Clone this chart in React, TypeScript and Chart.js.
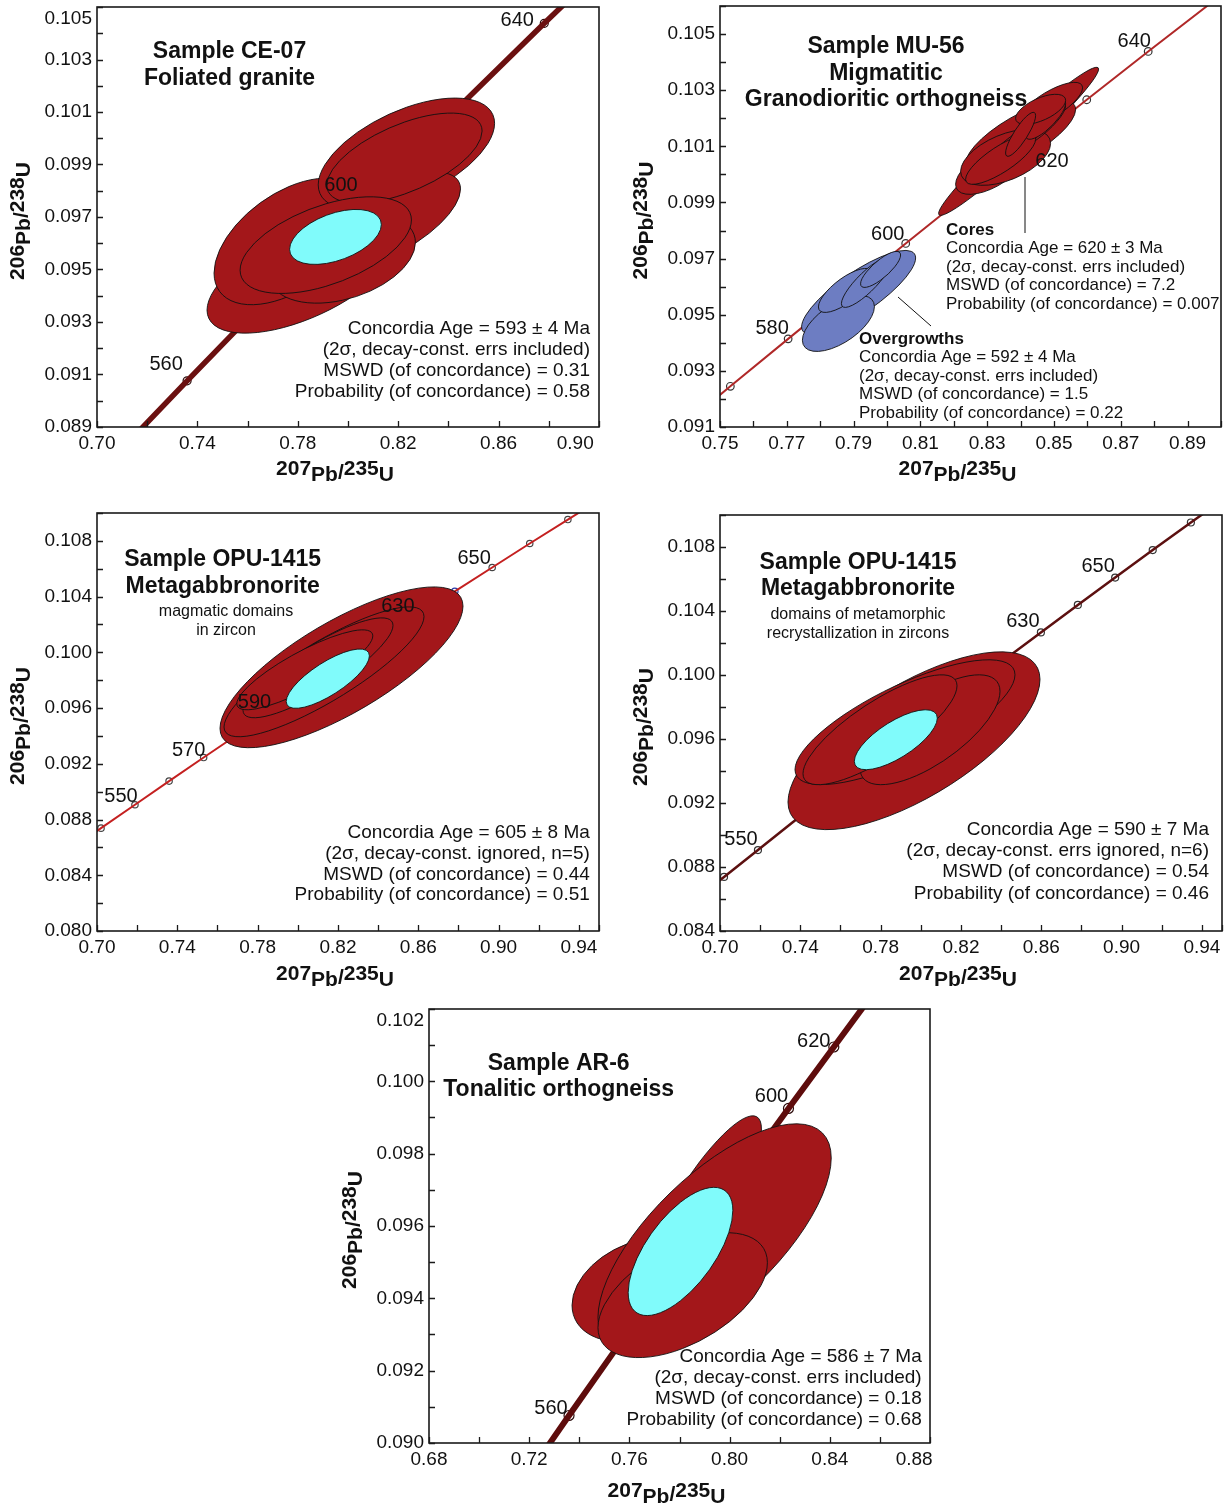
import React, { useEffect, useRef } from 'react';
import { Chart, registerables } from 'chart.js';

Chart.register(...registerables);

const FONT = '"Liberation Sans", Arial, Helvetica, sans-serif';
const NBSP = '\u00a0';

type Ell = number[]; // [207Pb/235U centre, 206Pb/238U centre, half-width x, half-height y, correlation]

// ---------- Concordia reference points ----------
const CONCORDIA_AGES = [530, 540, 550, 560, 570, 580, 590, 600, 610, 620, 630, 640, 650, 660, 670, 680];
const CONCORDIA_X = [0.6853, 0.702, 0.7189, 0.7359, 0.7531, 0.7704, 0.7879, 0.8056, 0.8235, 0.8416, 0.8598, 0.8782, 0.8968, 0.9155, 0.9345, 0.9537];
const CONCORDIA_Y = [0.08569, 0.08738, 0.08906, 0.09076, 0.09245, 0.09414, 0.09584, 0.09754, 0.09925, 0.10095, 0.10266, 0.10438, 0.10609, 0.10781, 0.10953, 0.11125];

// ---------- Sample CE-07 ----------
const CE07_MARKER_AGES = [560, 640];
const CE07_LABEL_AGES = [560, 600, 640];
const CE07_LABEL_TEXTS = ['560', '600', '640'];
const CE07_ELLIPSES: Ell[] = [
  [0.78176, 0.094766, 0.03792, 0.002191, 0.6],
  [0.77645, 0.09607, 0.02982, 0.002412, 0.5],
  [0.82327, 0.099397, 0.03513, 0.002134, 0.55],
  [0.81689, 0.096881, 0.02794, 0.001829, 0.65],
  [0.8089, 0.095547, 0.01597, 0.001143, 0.5],
  [0.79772, 0.095433, 0.02914, 0.001715, 0.35],
  [0.82248, 0.099244, 0.03094, 0.001715, 0.6],
  [0.79114, 0.095929, 0.03413, 0.001841, 0.52],
];
const CE07_MEAN: Ell = [0.79501, 0.096241, 0.01828, 0.001048, 0.45];
const CE07_TITLE = ['Sample CE-07', 'Foliated granite'];
const CE07_STATS = ['Concordia Age = 593 ± 4 Ma', '(2σ, decay-const. errs included)', 'MSWD (of concordance) = 0.31', 'Probability (of concordance) = 0.58'];

// ---------- Sample MU-56 ----------
const MU56_MARKER_AGES = [570, 580, 600, 630, 640];
const MU56_LABEL_AGES = [580, 600, 620, 640];
const MU56_LABEL_TEXTS = ['580', '600', '620', '640'];
const MU56_CORES: Ell[] = [
  [0.8394, 0.101178, 0.02395, 0.002638, 0.975],
  [0.84, 0.10135, 0.01647, 0.001283, 0.75],
  [0.83102, 0.10018, 0.01048, 0.000891, 0.6],
  [0.84898, 0.102497, 0.00958, 0.000784, 0.75],
  [0.83551, 0.100608, 0.01347, 0.000998, 0.5],
  [0.84449, 0.101677, 0.00898, 0.000891, 0.85],
  [0.83701, 0.100893, 0.00838, 0.000856, 0.85],
  [0.8415, 0.10125, 0.00659, 0.000998, 0.9],
  [0.83401, 0.100537, 0.01048, 0.000891, 0.8],
  [0.84748, 0.101963, 0.00599, 0.000713, 0.8],
  [0.84599, 0.102319, 0.00749, 0.000535, 0.6],
  [0.84, 0.101428, 0.00449, 0.000784, 0.85],
];
const MU56_OVERGROWTHS: Ell[] = [
  [0.7915, 0.095795, 0.01707, 0.001497, 0.82],
  [0.78545, 0.09469, 0.01078, 0.000998, 0.6],
  [0.78755, 0.095866, 0.00808, 0.000784, 0.75],
  [0.79384, 0.096152, 0.00749, 0.000891, 0.85],
  [0.79808, 0.096615, 0.00599, 0.000642, 0.8],
];
const MU56_TITLE = ['Sample MU-56', 'Migmatitic', 'Granodioritic orthogneiss'];
const MU56_CORES_STATS = ['Cores', 'Concordia Age = 620 ± 3 Ma', '(2σ, decay-const. errs included)', 'MSWD (of concordance) = 7.2', 'Probability (of concordance) = 0.007'];
const MU56_OVER_STATS = ['Overgrowths', 'Concordia Age = 592 ± 4 Ma', '(2σ, decay-const. errs included)', 'MSWD (of concordance) = 1.5', 'Probability (of concordance) = 0.22'];

// ---------- Sample OPU-1415, magmatic domains ----------
const OPUM_MARKER_AGES = [540, 550, 560, 570, 640, 650, 660, 670];
const OPUM_LABEL_AGES = [550, 570, 590, 630, 650];
const OPUM_LABEL_TEXTS = ['550', '570', '590', '630', '650'];
const OPUM_ELLIPSES: Ell[] = [
  [0.82176, 0.098925, 0.06051, 0.005771, 0.76],
  [0.81305, 0.098602, 0.0498, 0.00466, 0.85],
  [0.81006, 0.098889, 0.03735, 0.003584, 0.85],
  [0.80349, 0.098746, 0.03386, 0.002867, 0.85],
];
const OPUM_MEAN: Ell = [0.81494, 0.09811, 0.02072, 0.002129, 0.77];
const OPUM_TITLE = ['Sample OPU-1415', 'Metagabbronorite'];
const OPUM_SUBTITLE = ['magmatic domains', 'in zircon'];
const OPUM_STATS = ['Concordia Age = 605 ± 8 Ma', '(2σ, decay-const. ignored, n=5)', 'MSWD (of concordance) = 0.44', 'Probability (of concordance) = 0.51'];

// ---------- Sample OPU-1415, metamorphic recrystallization ----------
const OPUR_MARKER_AGES = [540, 550, 630, 640, 650, 660, 670];
const OPUR_LABEL_AGES = [550, 630, 650];
const OPUR_LABEL_TEXTS = ['550', '630', '650'];
const OPUR_ELLIPSES: Ell[] = [
  [0.79661, 0.095891, 0.06275, 0.005556, 0.69],
  [0.79213, 0.09705, 0.05478, 0.003901, 0.76],
  [0.80458, 0.096578, 0.03486, 0.003433, 0.7],
  [0.77968, 0.096578, 0.03835, 0.003433, 0.8],
];
const OPUR_MEAN: Ell = [0.78755, 0.095954, 0.02067, 0.001873, 0.72];
const OPUR_TITLE = ['Sample OPU-1415', 'Metagabbronorite'];
const OPUR_SUBTITLE = ['domains of metamorphic', 'recrystallization in zircons'];
const OPUR_STATS = ['Concordia Age = 590 ± 7 Ma', '(2σ, decay-const. errs ignored, n=6)', 'MSWD (of concordance) = 0.54', 'Probability (of concordance) = 0.46'];

// ---------- Sample AR-6 ----------
const AR6_MARKER_AGES = [560, 610, 620];
const AR6_LABEL_AGES = [560, 610, 620];
const AR6_LABEL_TEXTS = ['560', '600', '620'];
const AR6_ELLIPSES: Ell[] = [
  [0.76416, 0.09424, 0.02706, 0.001436, 0.3],
  [0.78804, 0.09645, 0.02467, 0.002597, 0.86],
  [0.79401, 0.095677, 0.04656, 0.003149, 0.7],
  [0.78127, 0.094088, 0.03382, 0.001727, 0.52],
];
const AR6_MEAN: Ell = [0.7804, 0.095296, 0.02089, 0.001773, 0.64];
const AR6_TITLE = ['Sample AR-6', 'Tonalitic orthogneiss'];
const AR6_STATS = ['Concordia Age = 586 ± 7 Ma', '(2σ, decay-const. errs included)', 'MSWD (of concordance) = 0.18', 'Probability (of concordance) = 0.68'];

// ---------- styles ----------
const RED = '#a3171a';
const CYAN = '#80fbfb';
const BLUE = '#6d7dc2';

const PANELS: any[] = [
  {
    key: 'ce07', plot: [97, 7, 599, 427], padR: 25,
    x: { min: 0.7, max: 0.9, step: 0.02, lBase: 0.7, lStep: 0.04, dec: 2 }, xLastPad: 9,
    y: { min: 0.089, max: 0.105, step: 0.001, lBase: 0.089, lStep: 0.002, dec: 3 }, yTopShift: true,
    line: { color: '#6b1010', width: 5.5 },
    marker: { r: 4, border: '#2a0a0a' },
    markerAges: CE07_MARKER_AGES, labelAges: CE07_LABEL_AGES, labelTexts: CE07_LABEL_TEXTS,
    labelOffsets: [[-21, -16], [-21, -17], [-27, -3]],
    groups: [{ items: CE07_ELLIPSES, fill: RED }, { items: [CE07_MEAN], fill: CYAN }],
    texts: [
      { lines: CE07_TITLE, x: 229.5, y: 51.5, dy: 27, align: 'center', size: 23, bold: true },
      { lines: CE07_STATS, x: 590, y: 328.3, dy: 21.1, align: 'right', size: 19 },
    ],
    leaders: [], titleDy: 45,
  },
  {
    key: 'mu56', plot: [720, 6, 1221, 427], padR: 5,
    x: { min: 0.75, max: 0.9, step: 0.01, lBase: 0.75, lStep: 0.02, dec: 2 },
    y: { min: 0.091, max: 0.106, step: 0.001, lBase: 0.091, lStep: 0.002, dec: 3 },
    line: { color: '#b02828', width: 2 },
    marker: { r: 3.8, border: '#333' },
    markerAges: MU56_MARKER_AGES, labelAges: MU56_LABEL_AGES, labelTexts: MU56_LABEL_TEXTS,
    labelOffsets: [[-16, -10], [-18, -9], [26, 14], [-14, -10]],
    groups: [{ items: MU56_CORES, fill: RED }, { items: MU56_OVERGROWTHS, fill: BLUE }],
    texts: [
      { lines: MU56_TITLE, x: 886, y: 47, dy: 26.3, align: 'center', size: 23, bold: true },
      { lines: MU56_CORES_STATS, x: 946, y: 230, dy: 18.6, align: 'left', size: 17, boldFirst: true },
      { lines: MU56_OVER_STATS, x: 859, y: 339.3, dy: 18.5, align: 'left', size: 17, boldFirst: true },
    ],
    leaders: [[1025, 177, 1025, 233], [898, 297, 931, 326]], titleDy: 45,
  },
  {
    key: 'opum', plot: [97, 513, 599, 931], padR: 25,
    x: { min: 0.7, max: 0.95, step: 0.02, lBase: 0.7, lStep: 0.04, dec: 2 },
    y: { min: 0.08, max: 0.11, step: 0.002, lBase: 0.08, lStep: 0.004, dec: 3 },
    line: { color: '#c42020', width: 2 },
    marker: { r: 3.2, border: '#444', highlight: { age: 640, color: '#2a3aa8' } },
    markerAges: OPUM_MARKER_AGES, labelAges: OPUM_LABEL_AGES, labelTexts: OPUM_LABEL_TEXTS,
    labelOffsets: [[-14, -8], [-15, -7], [-19, -8], [-20, -9], [-18, -8.5]],
    groups: [{ items: OPUM_ELLIPSES, fill: RED }, { items: [OPUM_MEAN], fill: CYAN }],
    texts: [
      { lines: OPUM_TITLE, x: 222.7, y: 560, dy: 26.7, align: 'center', size: 23, bold: true },
      { lines: OPUM_SUBTITLE, x: 226, y: 611.5, dy: 18.8, align: 'center', size: 16 },
      { lines: OPUM_STATS, x: 589.8, y: 832.7, dy: 20.8, align: 'right', size: 19 },
    ],
    leaders: [], titleDy: 46,
  },
  {
    key: 'opur', plot: [720, 515, 1222, 931], padR: 4,
    x: { min: 0.7, max: 0.95, step: 0.02, lBase: 0.7, lStep: 0.04, dec: 2 },
    y: { min: 0.084, max: 0.11, step: 0.002, lBase: 0.084, lStep: 0.004, dec: 3 },
    line: { color: '#5c1010', width: 2.5 },
    marker: { r: 3.5, border: '#333' },
    markerAges: OPUR_MARKER_AGES, labelAges: OPUR_LABEL_AGES, labelTexts: OPUR_LABEL_TEXTS,
    labelOffsets: [[-17, -11], [-18, -11], [-17, -11]],
    groups: [{ items: OPUR_ELLIPSES, fill: RED }, { items: [OPUR_MEAN], fill: CYAN }],
    texts: [
      { lines: OPUR_TITLE, x: 858, y: 562.3, dy: 26.7, align: 'center', size: 23, bold: true },
      { lines: OPUR_SUBTITLE, x: 858, y: 615, dy: 18.3, align: 'center', size: 16 },
      { lines: OPUR_STATS, x: 1209, y: 830, dy: 21.1, align: 'right', size: 19 },
    ],
    leaders: [], titleDy: 46,
  },
  {
    key: 'ar6', plot: [429, 1009, 930, 1443], padR: 25,
    x: { min: 0.68, max: 0.88, step: 0.02, lBase: 0.68, lStep: 0.04, dec: 2 }, xLastPad: 6,
    y: { min: 0.09, max: 0.102, step: 0.001, lBase: 0.09, lStep: 0.002, dec: 3 }, yTopShift: true,
    line: { color: '#5e0c0c', width: 6 },
    marker: { r: 5, border: '#2a0a0a' },
    markerAges: AR6_MARKER_AGES, labelAges: AR6_LABEL_AGES, labelTexts: AR6_LABEL_TEXTS,
    labelOffsets: [[-18, -7], [-17, -12], [-20, -5]],
    groups: [{ items: AR6_ELLIPSES, fill: RED }, { items: [AR6_MEAN], fill: CYAN }],
    texts: [
      { lines: AR6_TITLE, x: 558.7, y: 1063.3, dy: 26.7, align: 'center', size: 23, bold: true },
      { lines: AR6_STATS, x: 921.7, y: 1356.7, dy: 21.1, align: 'right', size: 19 },
    ],
    leaders: [], titleDy: 51,
  },
];

function concordiaPoint(age: number) {
  const i = CONCORDIA_AGES.indexOf(age);
  return { x: CONCORDIA_X[i], y: CONCORDIA_Y[i] };
}

function drawEllipse(ctx: CanvasRenderingContext2D, xs: any, ys: any, e: Ell, fill: string) {
  const [cx, cy, sx, sy, rho] = e;
  const X = xs.getPixelForValue(cx);
  const Y = ys.getPixelForValue(cy);
  const kx = xs.getPixelForValue(cx + sx) - X;
  const ky = Y - ys.getPixelForValue(cy + sy);
  ctx.save();
  ctx.beginPath();
  ctx.transform(kx, -ky * rho, 0, -ky * Math.sqrt(1 - rho * rho), X, Y);
  ctx.arc(0, 0, 1, 0, Math.PI * 2);
  ctx.restore();
  ctx.save();
  ctx.fillStyle = fill;
  ctx.fill();
  ctx.strokeStyle = '#111';
  ctx.lineWidth = 0.9;
  ctx.stroke();
  ctx.restore();
}

function drawIso(ctx: CanvasRenderingContext2D, cx: number, cy: number, rotate: boolean, n1: string, n2: string) {
  const parts: [string, number][] = [[n1, 3], ['Pb', 9], ['/', 7], [n2, 3], ['U', 9]];
  ctx.save();
  ctx.translate(cx, cy);
  if (rotate) ctx.rotate(-Math.PI / 2);
  ctx.font = `bold 21px ${FONT}`;
  ctx.fillStyle = '#111';
  ctx.textAlign = 'left';
  ctx.textBaseline = 'alphabetic';
  const widths = parts.map(([t]) => ctx.measureText(t).width);
  let x = -widths.reduce((a, b) => a + b, 0) / 2;
  parts.forEach(([t, base], i) => {
    ctx.fillText(t, x, base);
    x += widths[i];
  });
  ctx.restore();
}

function makeDecor(def: any) {
  return {
    id: 'decor_' + def.key,
    afterDatasetDraw(chart: any, args: any) {
      if (args.index !== 0) return;
      const ctx = chart.ctx;
      const ca = chart.chartArea;
      ctx.save();
      ctx.beginPath();
      ctx.rect(ca.left, ca.top, ca.right - ca.left, ca.bottom - ca.top);
      ctx.clip();
      for (const g of def.groups) for (const e of g.items) drawEllipse(ctx, chart.scales.x, chart.scales.y, e, g.fill);
      ctx.restore();
    },
    afterDatasetsDraw(chart: any) {
      const ctx = chart.ctx;
      const ca = chart.chartArea;
      const xs = chart.scales.x;
      const ys = chart.scales.y;
      const [L, T] = def.plot;
      const px = (v: number) => ca.left + (v - L);
      const py = (v: number) => ca.top + (v - T);
      ctx.save();
      ctx.fillStyle = '#111';
      ctx.font = `20px ${FONT}`;
      ctx.textAlign = 'center';
      ctx.textBaseline = 'middle';
      def.labelAges.forEach((age: number, i: number) => {
        const p = concordiaPoint(age);
        const [dx, dy] = def.labelOffsets[i];
        ctx.fillText(def.labelTexts[i], xs.getPixelForValue(p.x) + dx, ys.getPixelForValue(p.y) + dy);
      });
      ctx.strokeStyle = '#111';
      ctx.lineWidth = 1;
      for (const [x1, y1, x2, y2] of def.leaders) {
        ctx.beginPath();
        ctx.moveTo(px(x1), py(y1));
        ctx.lineTo(px(x2), py(y2));
        ctx.stroke();
      }
      for (const t of def.texts) {
        ctx.textAlign = t.align;
        t.lines.forEach((line: string, i: number) => {
          const bold = t.bold || (t.boldFirst && i === 0);
          ctx.font = `${bold ? 'bold ' : ''}${t.size}px ${FONT}`;
          ctx.fillText(line, px(t.x), py(t.y) + i * t.dy);
        });
      }
      ctx.strokeStyle = '#1a1a1a';
      ctx.lineWidth = 1.6;
      ctx.strokeRect(ca.left, ca.top, ca.right - ca.left, ca.bottom - ca.top);
      ctx.lineWidth = 1.3;
      ctx.beginPath();
      for (const t of xs.ticks) {
        const x = Math.round(xs.getPixelForValue(t.value)) + 0.5;
        ctx.moveTo(x, ca.bottom);
        ctx.lineTo(x, ca.bottom - 6);
      }
      for (const t of ys.ticks) {
        const y = Math.round(ys.getPixelForValue(t.value)) + 0.5;
        ctx.moveTo(ca.left, y);
        ctx.lineTo(ca.left + 6, y);
      }
      ctx.stroke();
      ctx.restore();
    },
    afterDraw(chart: any) {
      const ctx = chart.ctx;
      const ca = chart.chartArea;
      drawIso(ctx, (ca.left + ca.right) / 2 - 13, ca.bottom + def.titleDy, false, '207', '235');
      drawIso(ctx, ca.left - 76, (ca.top + ca.bottom) / 2 + 4, true, '206', '238');
    },
  };
}

function labelFor(v: number, a: any, isLast: boolean, pad: number, multiTop: boolean) {
  const k = (v - a.lBase) / a.lStep;
  if (Math.abs(k - Math.round(k)) > 1e-6) return '';
  const s = v.toFixed(a.dec);
  if (isLast && pad) return s + NBSP.repeat(pad);
  if (isLast && multiTop) return ['', s];
  return s;
}

function axisOptions(a: any, horizontal: boolean, def: any) {
  return {
    type: 'linear',
    position: horizontal ? 'bottom' : 'left',
    min: a.min,
    max: a.max,
    bounds: 'data',
    grid: { display: false, drawTicks: false },
    border: { display: false },
    ticks: {
      stepSize: a.step,
      precision: a.dec,
      includeBounds: false,
      autoSkip: false,
      maxTicksLimit: 1000,
      maxRotation: 0,
      minRotation: 0,
      padding: 5,
      color: '#111',
      font: { family: FONT, size: 19 },
      callback: (value: any) => {
        const v = Number(value);
        const isLast = Math.abs(v - a.max) < 1e-9;
        return labelFor(v, a, isLast, horizontal ? def.xLastPad || 0 : 0, !horizontal && !!def.yTopShift);
      },
    },
    afterFit: (s: any) => {
      if (horizontal) s.height = 75;
      else s.width = 100;
      s.paddingLeft = 0;
      s.paddingRight = 0;
      s.paddingTop = 0;
      s.paddingBottom = 0;
    },
  };
}

function buildConfig(def: any) {
  const linePts = CONCORDIA_AGES.map((_, i) => ({ x: CONCORDIA_X[i], y: CONCORDIA_Y[i] }));
  const markerPts = def.markerAges.map(concordiaPoint);
  const borders = def.markerAges.map((age: number) =>
    def.marker.highlight && def.marker.highlight.age === age ? def.marker.highlight.color : def.marker.border
  );
  return {
    type: 'scatter',
    data: {
      datasets: [
        {
          data: linePts,
          showLine: true,
          borderColor: def.line.color,
          borderWidth: def.line.width,
          pointRadius: 0,
          pointHoverRadius: 0,
          tension: 0,
          fill: false,
          clip: 0,
        },
        {
          data: markerPts,
          showLine: false,
          pointRadius: def.marker.r,
          pointHoverRadius: def.marker.r,
          pointBackgroundColor: '#ffffff',
          pointBorderColor: borders,
          pointBorderWidth: 1.2,
        },
      ],
    },
    options: {
      responsive: false,
      animation: false,
      devicePixelRatio: 1,
      events: [],
      layout: { padding: { left: 0, top: 15, right: def.padR, bottom: 0 }, autoPadding: false },
      plugins: { legend: { display: false }, tooltip: { enabled: false } },
      scales: {
        x: axisOptions(def.x, true, def),
        y: axisOptions(def.y, false, def),
      },
    },
    plugins: [makeDecor(def)],
  };
}

function Panel({ def }: { def: any }) {
  const ref = useRef<HTMLCanvasElement | null>(null);
  const [L, T, R, B] = def.plot;
  const left = L - 100;
  const top = T - 15;
  const width = R - L + 100 + def.padR;
  const height = B - T + 15 + 75;
  useEffect(() => {
    if (!ref.current) return;
    const chart = new Chart(ref.current, buildConfig(def) as any);
    return () => chart.destroy();
  }, [def]);
  return (
    <canvas
      ref={ref}
      width={width}
      height={height}
      style={{ position: 'absolute', left, top, width, height }}
    />
  );
}

export default function App() {
  return (
    <div style={{ position: 'absolute', left: 0, top: 0, width: 1226, height: 1508, overflow: 'hidden', background: '#ffffff' }}>
      {PANELS.map((p) => (
        <Panel key={p.key} def={p} />
      ))}
    </div>
  );
}
